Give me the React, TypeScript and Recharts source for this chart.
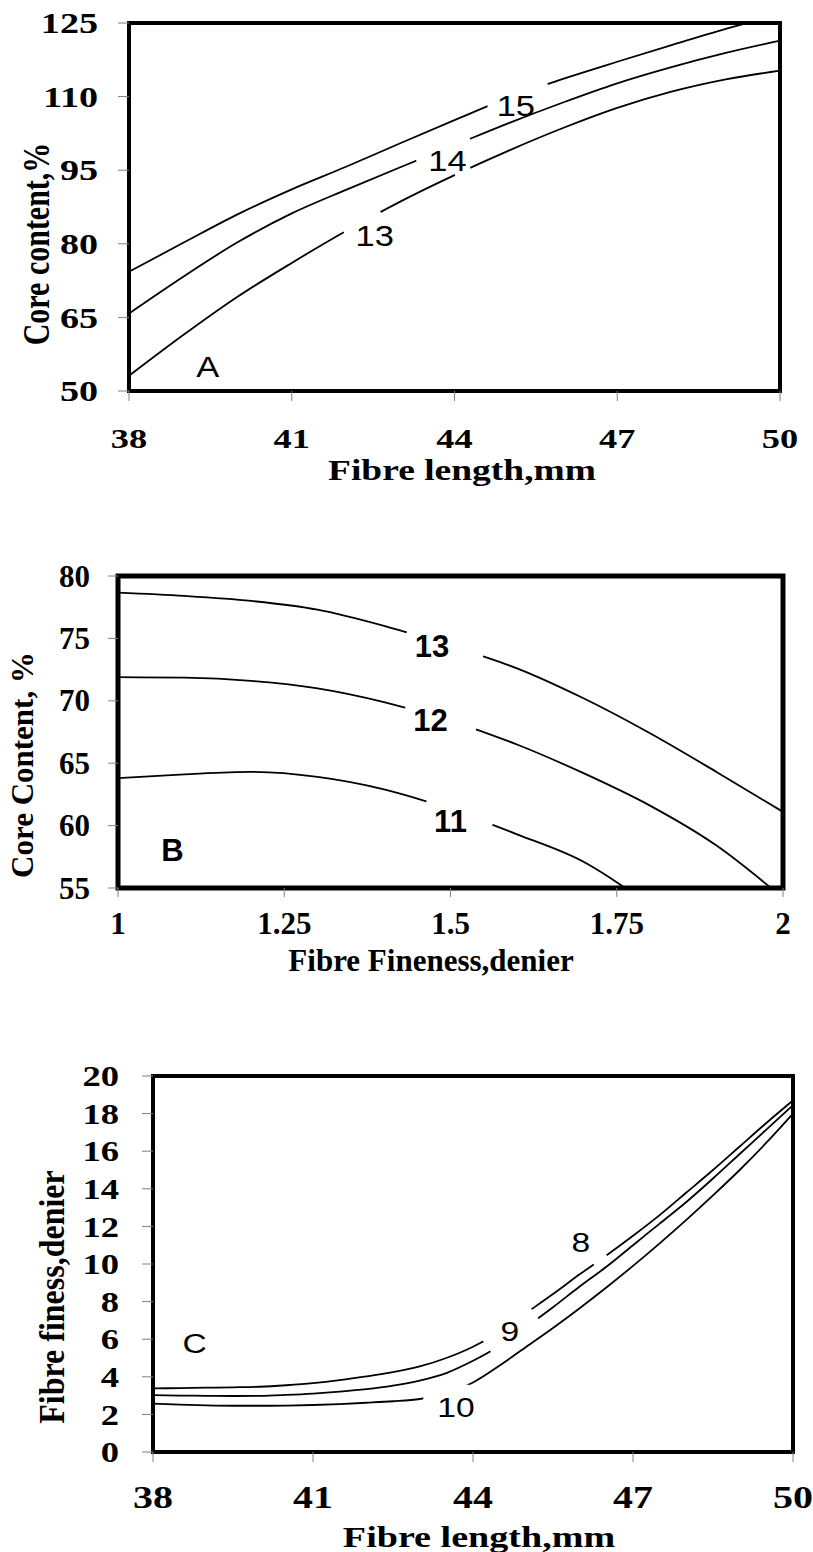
import React from 'react'
import { LineChart, Line, XAxis, YAxis, ReferenceArea, ReferenceDot, Label } from 'recharts'

const SERIF = '"Liberation Serif", "Times New Roman", serif'
const SANS = '"Liberation Sans", Arial, sans-serif'

// panel A: core content vs fibre length (contours 13, 14, 15)
const lengthA = [38, 39, 40, 41, 42, 43, 44, 45, 46, 47, 48, 49, 50]
const coreA13 = [53.1, 61.4, 69.2, 76.1, 82.6, 88.6, 94.0, 99.0, 103.6, 107.7, 111.0, 113.5, 115.3]
const coreA14 = [65.8, 73.3, 80.3, 86.2, 91.0, 95.6, 100.1, 104.6, 108.8, 112.7, 116.0, 118.9, 121.4]
const coreA15 = [74.3, 80.2, 86.0, 91.1, 95.7, 100.5, 105.2, 109.8, 113.6, 117.1, 120.5, 123.8, 126.8]
const ticksLengthA = [38, 41, 44, 47, 50]
const ticksCoreA = [50, 65, 80, 95, 110, 125]

// panel B: core content vs fibre fineness (contours 11, 12, 13)
const finenessB = [1, 1.1, 1.2, 1.3, 1.4, 1.5, 1.6, 1.7, 1.8, 1.9, 2]
const coreB11 = [63.8, 64.1, 64.3, 63.9, 62.9, 61.3, 59.3, 57.1, 53.6, null, null]
const coreB12 = [71.89, 71.85, 71.6, 71.0, 69.9, 68.4, 66.5, 64.2, 61.6, 58.4, 54.2]
const coreB13 = [78.66, 78.4, 78.0, 77.3, 76.0, 74.4, 72.6, 70.2, 67.4, 64.3, 61.1]
const ticksFinenessB = [1, 1.25, 1.5, 1.75, 2]
const ticksCoreB = [55, 60, 65, 70, 75, 80]

// panel C: fibre fineness vs fibre length (contours 8, 9, 10)
const lengthC = [38, 38.5, 39, 39.5, 40, 40.5, 41, 41.5, 42, 42.5, 43, 43.5, 44, 44.5, 45, 45.5, 46, 46.5, 47, 47.5, 48, 48.5, 49, 49.5, 50]
const finC8 = [3.38, 3.4, 3.42, 3.44, 3.47, 3.55, 3.66, 3.82, 4.02, 4.25, 4.55, 5.0, 5.6, 6.4, 7.4, 8.4, 9.45, 10.45, 11.5, 12.6, 13.8, 15.0, 16.25, 17.5, 18.7]
const finC9 = [3.02, 3.0, 2.99, 2.98, 2.99, 3.04, 3.11, 3.21, 3.34, 3.53, 3.8, 4.2, 4.85, 5.65, 6.65, 7.7, 8.8, 9.85, 11.0, 12.15, 13.3, 14.55, 15.85, 17.15, 18.45]
const finC10 = [2.57, 2.52, 2.48, 2.46, 2.46, 2.47, 2.5, 2.55, 2.62, 2.7, 2.82, 3.1, 3.7, 4.6, 5.6, 6.6, 7.65, 8.75, 9.9, 11.1, 12.35, 13.65, 15.0, 16.45, 18.0]
const ticksLengthC = [38, 41, 44, 47, 50]
const ticksFinenessC = [0, 2, 4, 6, 8, 10, 12, 14, 16, 18, 20]

// contour labels and the white gaps they cut into the lines
const labelsA = [
  { x: 45.13, y: 108.2, text: '15' },
  { x: 43.87, y: 97.0, text: '14' },
  { x: 42.53, y: 81.8, text: '13' },
  { x: 39.45, y: 55.1, text: 'A' },
]
const gapsA = [
  { x: 45.16, y: 110.4, w: 64, h: 14, angle: -19 },
  { x: 43.79, y: 99.2, w: 58, h: 14, angle: -22 },
  { x: 44.15, y: 94.75, w: 17, h: 10, angle: -24 },
  { x: 42.3, y: 84.4, w: 42, h: 14, angle: -28 },
]
const labelsB = [
  { x: 1.472, y: 74.4, text: '13' },
  { x: 1.47, y: 68.5, text: '12' },
  { x: 1.5, y: 60.4, text: '11' },
  { x: 1.082, y: 58.06, text: 'B' },
]
const gapsB = [
  { x: 1.4916, y: 74.53, w: 80, h: 16, angle: 17 },
  { x: 1.4854, y: 68.62, w: 74, h: 16, angle: 16 },
  { x: 1.5137, y: 61.03, w: 70, h: 16, angle: 20.5 },
]
const labelsC = [
  { x: 46.02, y: 11.15, text: '8' },
  { x: 44.69, y: 6.46, text: '9' },
  { x: 43.68, y: 2.39, text: '10' },
  { x: 38.78, y: 5.8, text: 'C' },
]
const gapsC = [
  { x: 44.72, y: 6.45, w: 58, h: 24, angle: -36 },
  { x: 46.385, y: 10.22, w: 16, h: 8, angle: -36 },
  { x: 43.5, y: 2.65, w: 46, h: 35, angle: 0 },
]

const rowsA = lengthA.map((x, i) => ({ x, c13: coreA13[i], c14: coreA14[i], c15: coreA15[i] }))
const rowsB = finenessB.map((x, i) => ({ x, c11: coreB11[i], c12: coreB12[i], c13: coreB13[i] }))
const rowsC = lengthC.map((x, i) => ({ x, c8: finC8[i], c9: finC9[i], c10: finC10[i] }))

type TickOpts = { fs: number; sx: number; anchor: 'end' | 'middle'; dy: string }

function serifTick(o: TickOpts) {
  return (p: any) => (
    <text
      transform={`translate(${p.x},${p.y}) scale(${o.sx},1)`}
      textAnchor={o.anchor}
      dy={o.dy}
      fontFamily={SERIF}
      fontWeight="bold"
      fontSize={o.fs}
      fill="#000"
    >
      {p.payload.value}
    </text>
  )
}

// axis titles sit at fixed spots of each chart's own svg
function titleX(text: string, cx: number, baseline: number, fs: number, sx: number) {
  return () => (
    <text transform={`translate(${cx},${baseline}) scale(${sx},1)`} textAnchor="middle" fontFamily={SERIF} fontWeight="bold" fontSize={fs} fill="#000">
      {text}
    </text>
  )
}

function titleY(text: string, cx: number, cy: number, fs: number, sx: number) {
  return () => (
    <text transform={`translate(${cx},${cy}) scale(${sx},1) rotate(-90)`} textAnchor="middle" dy="0.35em" fontFamily={SERIF} fontWeight="bold" fontSize={fs} fill="#000">
      {text}
    </text>
  )
}

function gapShape(g: { w: number; h: number; angle: number }) {
  return (p: any) => (
    <rect x={p.cx - g.w / 2} y={p.cy - g.h / 2} width={g.w} height={g.h} fill="#fff" transform={`rotate(${g.angle} ${p.cx} ${p.cy})`} />
  )
}

function labelShape(text: string, fs: number, bold: boolean, sx: number) {
  return (p: any) => (
    <text transform={`translate(${p.cx},${p.cy}) scale(${sx},1)`} textAnchor="middle" dy="0.36em" fontFamily={SANS} fontSize={fs} fontWeight={bold ? 'bold' : 'normal'} fill="#000">
      {text}
    </text>
  )
}

const lineProps = { type: 'monotone' as const, stroke: '#000', strokeWidth: 1.8, dot: false, activeDot: false, isAnimationActive: false }
const tickLine = { stroke: '#808080', strokeWidth: 1 }

export default function App() {
  return (
    <div style={{ position: 'relative', width: 813, height: 1552, background: '#fff' }}>
      <style>{'body{margin:0}'}</style>

      <div style={{ position: 'absolute', left: 0, top: 0 }}>
        <LineChart width={813} height={490} data={rowsA} margin={{ top: 23, right: 33, bottom: 0, left: 0 }}>
          <XAxis dataKey="x" type="number" domain={[38, 50]} ticks={ticksLengthA} interval={0} height={99} axisLine={false} tickLine={tickLine} tickSize={10} tickMargin={29} tick={serifTick({ fs: 28, sx: 1.3, anchor: 'middle', dy: '0.66em' })}>
            <Label content={titleX('Fibre length,mm', 462, 480, 30, 1.25)} />
          </XAxis>
          <YAxis type="number" domain={[50, 125]} ticks={ticksCoreA} interval={0} allowDataOverflow width={129} axisLine={false} tickLine={tickLine} tickSize={11} tickMargin={20} tick={serifTick({ fs: 30, sx: 1.27, anchor: 'end', dy: '0.34em' })}>
            <Label content={titleY('Core content,%', 36, 244, 30, 1.25)} />
          </YAxis>
          <Line {...lineProps} dataKey="c13" />
          <Line {...lineProps} dataKey="c14" />
          <Line {...lineProps} dataKey="c15" />
          {gapsA.map((g, i) => (
            <ReferenceDot key={'ga' + i} x={g.x} y={g.y} r={1} ifOverflow="visible" shape={gapShape(g)} />
          ))}
          {labelsA.map((l, i) => (
            <ReferenceDot key={'la' + i} x={l.x} y={l.y} r={1} ifOverflow="visible" shape={labelShape(l.text, 30, false, 1.15)} />
          ))}
          <ReferenceArea x1={38} x2={50} y1={50} y2={125} fill="none" stroke="#000" strokeWidth={4} />
        </LineChart>
      </div>

      <div style={{ position: 'absolute', left: 0, top: 530 }}>
        <LineChart width={813} height={470} data={rowsB} margin={{ top: 46, right: 30, bottom: 0, left: 0 }}>
          <XAxis dataKey="x" type="number" domain={[1, 2]} ticks={ticksFinenessB} interval={0} height={112} axisLine={false} tickLine={tickLine} tickSize={9} tickMargin={17} tick={serifTick({ fs: 31, sx: 1, anchor: 'middle', dy: '0.66em' })}>
            <Label content={titleX('Fibre Fineness,denier', 431, 440.5, 31, 1)} />
          </XAxis>
          <YAxis type="number" domain={[55, 80]} ticks={ticksCoreB} interval={0} allowDataOverflow width={118} axisLine={false} tickLine={tickLine} tickSize={10} tickMargin={18} tick={serifTick({ fs: 31, sx: 1, anchor: 'end', dy: '0.34em' })}>
            <Label content={titleY('Core Content, %', 22, 235, 31, 1)} />
          </YAxis>
          <Line {...lineProps} dataKey="c11" />
          <Line {...lineProps} dataKey="c12" />
          <Line {...lineProps} dataKey="c13" />
          {gapsB.map((g, i) => (
            <ReferenceDot key={'gb' + i} x={g.x} y={g.y} r={1} ifOverflow="visible" shape={gapShape(g)} />
          ))}
          {labelsB.map((l, i) => (
            <ReferenceDot key={'lb' + i} x={l.x} y={l.y} r={1} ifOverflow="visible" shape={labelShape(l.text, 31, true, 1)} />
          ))}
          <ReferenceArea x1={1} x2={2} y1={55} y2={80} fill="none" stroke="#000" strokeWidth={5} />
        </LineChart>
      </div>

      <div style={{ position: 'absolute', left: 0, top: 1030 }}>
        <LineChart width={813} height={522} data={rowsC} margin={{ top: 46, right: 20, bottom: 0, left: 0 }}>
          <XAxis dataKey="x" type="number" domain={[38, 50]} ticks={ticksLengthC} interval={0} height={100} axisLine={false} tickLine={tickLine} tickSize={10} tickMargin={25} tick={serifTick({ fs: 32, sx: 1.25, anchor: 'middle', dy: '0.66em' })}>
            <Label content={titleX('Fibre length,mm', 479, 517, 30, 1.27)} />
          </XAxis>
          <YAxis type="number" domain={[0, 20]} ticks={ticksFinenessC} interval={0} allowDataOverflow width={153} axisLine={false} tickLine={tickLine} tickSize={11} tickMargin={23} tick={serifTick({ fs: 30, sx: 1.22, anchor: 'end', dy: '0.34em' })}>
            <Label content={titleY('Fibre finess,denier', 51, 267, 32, 1.15)} />
          </YAxis>
          <Line {...lineProps} dataKey="c8" />
          <Line {...lineProps} dataKey="c9" />
          <Line {...lineProps} dataKey="c10" />
          {gapsC.map((g, i) => (
            <ReferenceDot key={'gc' + i} x={g.x} y={g.y} r={1} ifOverflow="visible" shape={gapShape(g)} />
          ))}
          {labelsC.map((l, i) => (
            <ReferenceDot key={'lc' + i} x={l.x} y={l.y} r={1} ifOverflow="visible" shape={labelShape(l.text, 28, false, 1.2)} />
          ))}
          <ReferenceArea x1={38} x2={50} y1={0} y2={20} fill="none" stroke="#000" strokeWidth={4} />
        </LineChart>
      </div>
    </div>
  )
}
